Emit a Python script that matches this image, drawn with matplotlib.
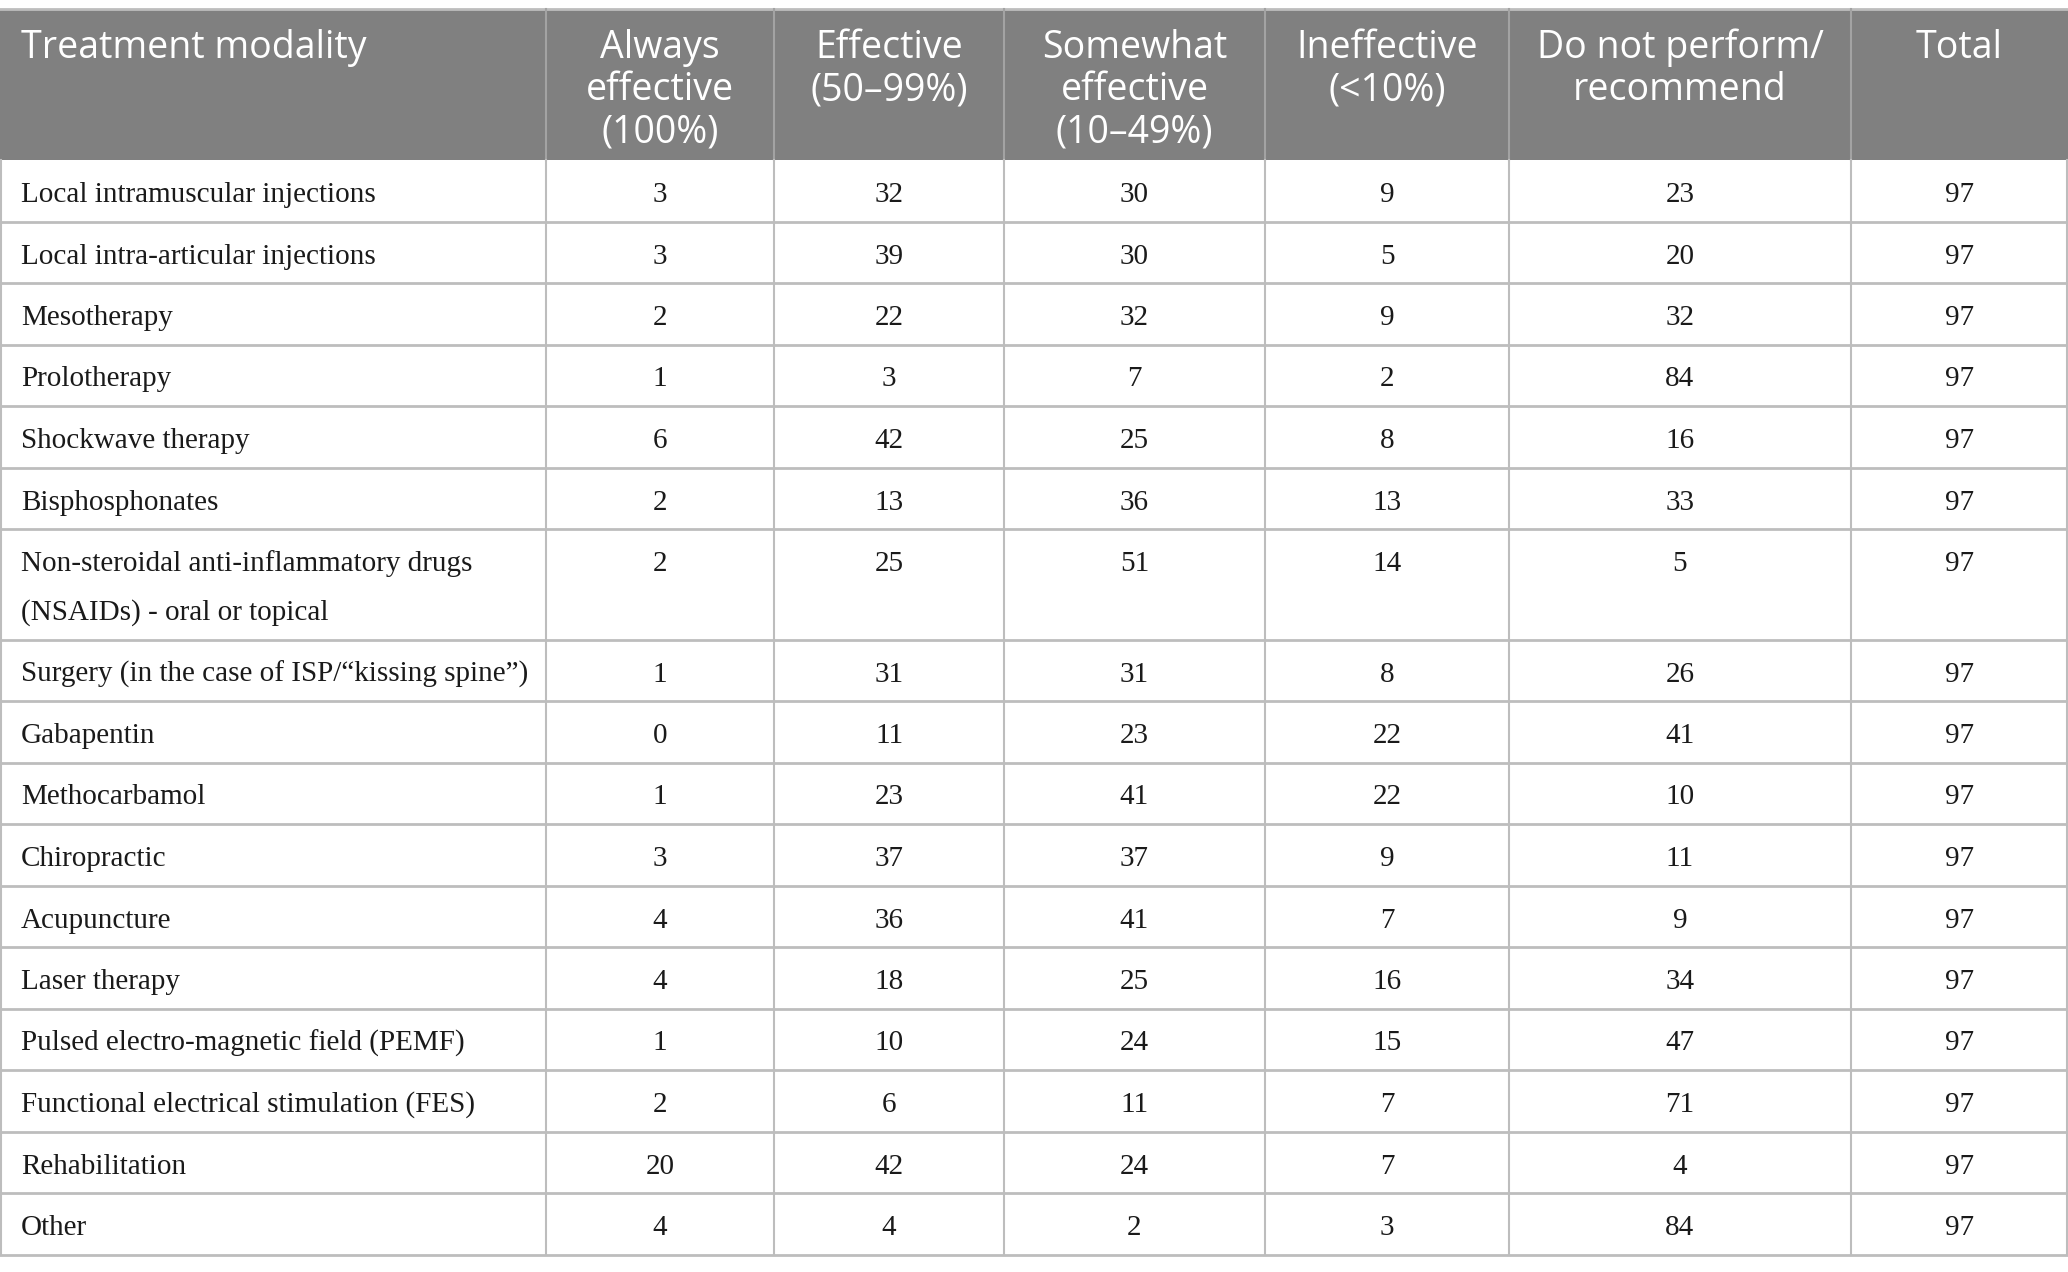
import matplotlib
matplotlib.use("Agg")
import matplotlib.pyplot as plt
from matplotlib.patches import Rectangle

# table content
headers = [
    ["Treatment modality"],
    ["Always", "effective", "(100%)"],
    ["Effective", "(50\u201399%)"],
    ["Somewhat", "effective", "(10\u201349%)"],
    ["Ineffective", "(<10%)"],
    ["Do not perform/", "recommend"],
    ["Total"],
]
modalities = [
    ["Local intramuscular injections"],
    ["Local intra-articular injections"],
    ["Mesotherapy"],
    ["Prolotherapy"],
    ["Shockwave therapy"],
    ["Bisphosphonates"],
    ["Non-steroidal anti-inflammatory drugs", "(NSAIDs) - oral or topical"],
    ["Surgery (in the case of ISP/\u201ckissing spine\u201d)"],
    ["Gabapentin"],
    ["Methocarbamol"],
    ["Chiropractic"],
    ["Acupuncture"],
    ["Laser therapy"],
    ["Pulsed electro-magnetic field (PEMF)"],
    ["Functional electrical stimulation (FES)"],
    ["Rehabilitation"],
    ["Other"],
]
always_effective = [3, 3, 2, 1, 6, 2, 2, 1, 0, 1, 3, 4, 4, 1, 2, 20, 4]
effective = [32, 39, 22, 3, 42, 13, 25, 31, 11, 23, 37, 36, 18, 10, 6, 42, 4]
somewhat = [30, 30, 32, 7, 25, 36, 51, 31, 23, 41, 37, 41, 25, 24, 11, 24, 2]
ineffective = [9, 5, 9, 2, 8, 13, 14, 8, 22, 22, 9, 7, 16, 15, 7, 7, 3]
not_perform = [23, 20, 32, 84, 16, 33, 5, 26, 41, 10, 11, 9, 34, 47, 71, 4, 84]
total = [97] * 17

# layout (pixels)
W, H = 2068, 1272
col_edges = [0, 546, 774, 1004, 1265, 1509, 1851, 2068]
top, head_bot = 9, 160
row_h, line_h = 61.5, 49

fig = plt.figure(figsize=(W / 100, H / 100), dpi=100)
ax = fig.add_axes([0, 0, 1, 1])
ax.set_xlim(0, W)
ax.set_ylim(H, 0)
ax.axis("off")

head_bg = "#808080"
grid = "#bdbdbd"
txt = "#1a1a1a"

ax.add_patch(Rectangle((0, top), W, head_bot - top, facecolor=head_bg, edgecolor="none"))
ax.plot([0, W], [top, top], color=grid, lw=2)
for x in col_edges[1:-1]:
    ax.plot([x, x], [top, head_bot], color="#a3a3a3", lw=1.5)

for j, lines in enumerate(headers):
    for i, s in enumerate(lines):
        y = top + 49 + 42 * i
        if j == 0:
            ax.text(21, y, s, ha="left", va="baseline", color="white",
                    family="Open Sans", fontsize=27)
        else:
            cx = (col_edges[j] + col_edges[j + 1]) / 2
            ax.text(cx, y, s, ha="center", va="baseline", color="white",
                    family="Open Sans", fontsize=27)

columns = [always_effective, effective, somewhat, ineffective, not_perform, total]
y0 = head_bot
for r, name in enumerate(modalities):
    h = row_h + line_h * (len(name) - 1)
    base = y0 + 42
    for i, s in enumerate(name):
        ax.text(21, base + line_h * i, s, ha="left", va="baseline", color=txt,
                family="Liberation Serif", fontsize=21)
    for j, col in enumerate(columns):
        cx = (col_edges[j + 1] + col_edges[j + 2]) / 2
        ax.text(cx, base, str(col[r]), ha="center", va="baseline", color=txt,
                family="Liberation Serif", fontsize=21)
    y0 += h
    ax.plot([0, W], [y0, y0], color=grid, lw=2)
bottom = y0

for x in col_edges:
    xx = min(max(x, 1), W - 1)
    ax.plot([xx, xx], [head_bot, bottom], color=grid, lw=1.5)

fig.savefig("out.png", dpi=100, facecolor="white")
